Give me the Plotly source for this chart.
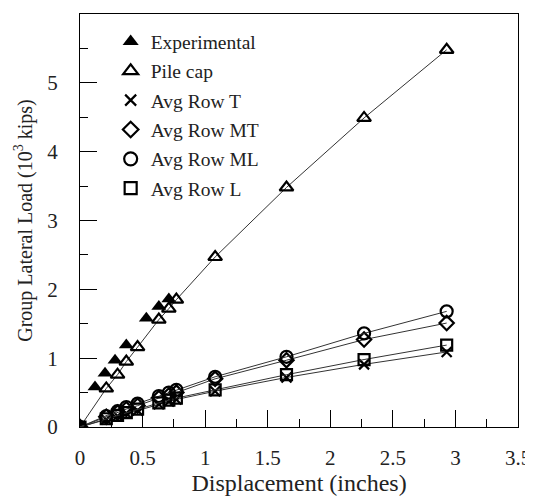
import plotly.graph_objects as go

# displacement (inches) shared by the model series
disp = [0, 0.21, 0.30, 0.37, 0.46, 0.63, 0.71, 0.77, 1.08, 1.65, 2.27, 2.93]
pile_cap = [0, 0.56, 0.76, 0.95, 1.16, 1.56, 1.72, 1.85, 2.47, 3.48, 4.49, 5.48]
row_ml = [0, 0.16, 0.23, 0.29, 0.34, 0.45, 0.50, 0.54, 0.73, 1.02, 1.36, 1.68]
row_mt = [0, 0.15, 0.21, 0.26, 0.31, 0.42, 0.46, 0.50, 0.70, 0.97, 1.27, 1.51]
row_l = [0, 0.12, 0.17, 0.21, 0.26, 0.35, 0.39, 0.42, 0.54, 0.76, 0.98, 1.19]
row_t = [0, 0.11, 0.16, 0.20, 0.24, 0.33, 0.37, 0.40, 0.52, 0.72, 0.91, 1.09]

# experimental points
exp_disp = [0, 0.12, 0.20, 0.28, 0.37, 0.53, 0.63, 0.71]
exp_load = [0, 0.58, 0.78, 0.97, 1.19, 1.58, 1.75, 1.86]

series = [
    ("Pile cap", pile_cap, "triangle-up-open", 12),
    ("Avg Row T", row_t, "x-thin-open", 10),
    ("Avg Row MT", row_mt, "diamond-open", 11),
    ("Avg Row ML", row_ml, "circle-open", 12),
    ("Avg Row L", row_l, "square-open", 11),
]

SERIF = "Liberation Serif, Times New Roman, DejaVu Serif, serif"

fig = go.Figure()

fig.add_trace(go.Scatter(x=exp_disp, y=exp_load, mode="markers", showlegend=False,
                         marker=dict(symbol="triangle-up", size=13, color="black")))
for name, vals, sym, sz in series:
    fig.add_trace(go.Scatter(x=disp, y=vals, mode="lines+markers", showlegend=False,
                             line=dict(color="#333", width=1),
                             marker=dict(symbol=sym, size=sz, color="black",
                                         line=dict(color="black", width=2.2))))

# legend entries (markers only)
fig.add_trace(go.Scatter(x=[None], y=[None], mode="markers", name="Experimental",
                         legendgroup="a",
                         marker=dict(symbol="triangle-up", size=14, color="black")))
for i, (name, vals, sym, sz) in enumerate(series):
    fig.add_trace(go.Scatter(x=[None], y=[None], mode="markers", name=name,
                             legendgroup="g%d" % i,
                             marker=dict(symbol=sym, size=sz + 1, color="black",
                                         line=dict(color="black", width=2.2))))

axis_common = dict(showline=True, linecolor="black", linewidth=1, mirror=True,
                   ticks="inside", ticklen=17, tickcolor="black", showgrid=False,
                   zeroline=False, automargin=False,
                   tickfont=dict(family=SERIF, size=21, color="#222"))

fig.update_xaxes(range=[0, 3.5], dtick=0.5, tick0=0, ticklabelstandoff=12,
                 title=dict(text="Displacement (inches)", font=dict(family=SERIF, size=24, color="#222"), standoff=0),
                 minor=dict(ticks="inside", ticklen=8, dtick=0.25, tickcolor="black"),
                 **axis_common)
fig.update_yaxes(range=[0, 6], dtick=1, tick0=0, ticklabelstandoff=17,
                 title=dict(text="Group Lateral Load (10<sup>3</sup> kips)", font=dict(family=SERIF, size=20, color="#222"), standoff=9),
                 minor=dict(ticks="inside", ticklen=8, dtick=0.5, tickcolor="black"),
                 **axis_common)

# page body adds an 8px offset, so the figure is 8px smaller than the window
fig.update_layout(
    width=525, height=492,
    margin=dict(l=72, r=15, t=6, b=73),
    plot_bgcolor="white", paper_bgcolor="white",
    font=dict(family=SERIF, color="#222"),
    legend=dict(x=0.07, y=0.98, xanchor="left", yanchor="top",
                font=dict(family=SERIF, size=19.5), tracegroupgap=1, bgcolor="rgba(0,0,0,0)"),
)

fig.write_html("out.html")
